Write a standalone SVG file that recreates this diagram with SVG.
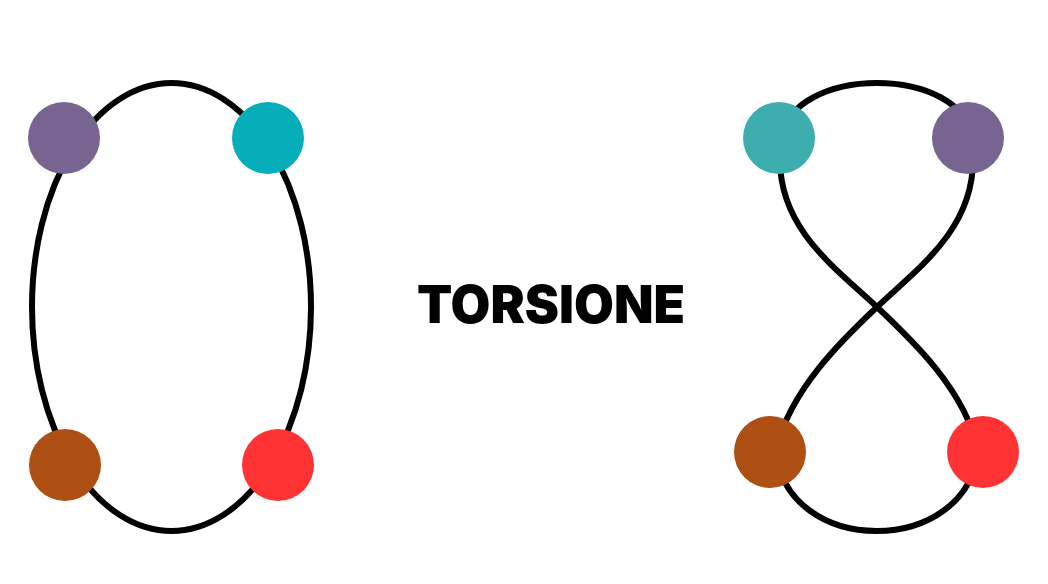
<svg xmlns="http://www.w3.org/2000/svg" width="1048" height="584" viewBox="0 0 1048 584">
<style>
.wire{fill:none;stroke:#000;stroke-width:6;stroke-linecap:round;stroke-linejoin:round}
.lbl{font-family:Inter,"Liberation Sans",sans-serif;font-weight:900;font-size:52px;fill:#000}
</style>
<rect width="1048" height="584" fill="#fff"/>
<g id="connectors">
<ellipse class="wire" cx="171.5" cy="307" rx="139.5" ry="224"/>
<path class="wire" d="M877 307 C837 269 780 230 780 160 L781 140 C790 64 964 64 973 140 L973 160 C973 230 917 269 877 307 C842 340 790 390 776 450 C785 558 968 558 978 450 C965 390 912 340 877 307 Z"/>
</g>
<g id="left-purple"><circle cx="64" cy="138" r="36" fill="#776491"/></g>
<g id="left-teal"><circle cx="268" cy="138" r="36" fill="#05AEB8"/></g>
<g id="left-brown"><circle cx="65" cy="465" r="36" fill="#AE5014"/></g>
<g id="left-red"><circle cx="278" cy="465" r="36" fill="#FF3333"/></g>
<g id="right-teal"><circle cx="779" cy="138" r="36" fill="#3DADAE"/></g>
<g id="right-purple"><circle cx="968" cy="138" r="36" fill="#776491"/></g>
<g id="right-brown"><circle cx="770" cy="452" r="36" fill="#AE5014"/></g>
<g id="right-red"><circle cx="983" cy="452" r="36" fill="#FF3333"/></g>
<g id="title"><text class="lbl" x="417" y="323" textLength="268" lengthAdjust="spacingAndGlyphs">TORSIONE</text></g>
</svg>
